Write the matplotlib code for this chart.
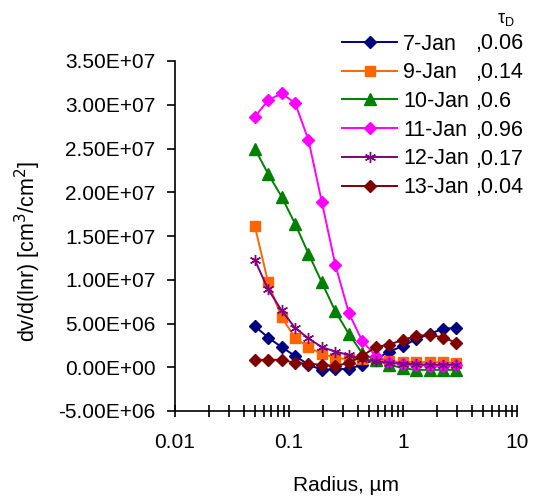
import matplotlib
matplotlib.use("Agg")
import matplotlib.pyplot as plt
from matplotlib.ticker import FuncFormatter, LogLocator, FixedLocator, NullFormatter

plt.rcParams['font.family'] = ['Liberation Sans', 'DejaVu Sans']

# Particle radius bins (um)
radius = [0.05, 0.0656, 0.0861, 0.113, 0.148, 0.194, 0.255, 0.335,
          0.439, 0.576, 0.756, 0.992, 1.302, 1.708, 2.241, 2.94]

# Volume size distributions dV/dlnr for each day
jan07 = [4.7e6, 3.4e6, 2.3e6, 1.3e6, 0.3e6, -0.3e6, -0.2e6, -0.2e6,
         0.3e6, 0.9e6, 1.8e6, 2.4e6, 3.2e6, 3.8e6, 4.4e6, 4.5e6]
jan09 = [1.62e7, 9.7e6, 5.7e6, 3.4e6, 2.3e6, 1.5e6, 1.1e6, 0.9e6,
         0.9e6, 0.7e6, 0.7e6, 0.6e6, 0.6e6, 0.6e6, 0.6e6, 0.5e6]
jan10 = [2.50e7, 2.21e7, 1.95e7, 1.64e7, 1.30e7, 9.7e6, 6.4e6, 3.8e6,
         1.6e6, 0.8e6, 0.3e6, -0.1e6, -0.3e6, -0.3e6, -0.3e6, -0.3e6]
jan11 = [2.86e7, 3.05e7, 3.13e7, 3.02e7, 2.60e7, 1.89e7, 1.17e7, 6.2e6,
         3.0e6, 1.3e6, 0.6e6, 0.4e6, 0.3e6, 0.2e6, 0.2e6, 0.3e6]
jan12 = [1.23e7, 8.9e6, 6.5e6, 4.5e6, 3.3e6, 2.3e6, 1.8e6, 1.4e6,
         0.9e6, 0.7e6, 0.5e6, 0.4e6, 0.35e6, 0.3e6, 0.3e6, 0.3e6]
jan13 = [0.85e6, 0.85e6, 0.85e6, 0.5e6, 0.4e6, 0.27e6, 0.15e6, 0.5e6,
         1.3e6, 2.3e6, 2.6e6, 3.1e6, 3.6e6, 3.7e6, 3.4e6, 2.8e6]

days = ["7-Jan", "9-Jan", "10-Jan", "11-Jan", "12-Jan", "13-Jan"]
tau = [",0.06", ",0.14", ",0.6", ",0.96", ",0.17", ",0.04"]
series = [jan07, jan09, jan10, jan11, jan12, jan13]
colors = ["#000080", "#FF6600", "#008000", "#FF00FF", "#800080", "#800000"]
markers = ["D", "s", "^", "D", (6, 2, 0), "D"]
msizes = [6.5, 7, 8, 6.5, 8, 6.5]

W, H = 533, 496
fig = plt.figure(figsize=(W / 100, H / 100), dpi=100)
ax = fig.add_axes([175 / W, 85 / H, 342 / W, 350 / H])

for y, c, m, ms, lab in zip(series, colors, markers, msizes, days):
    ax.plot(radius, y, color=c, marker=m, markersize=ms, linewidth=1.4,
            markeredgecolor=c, markeredgewidth=1.0, label=lab)

ax.set_xscale("log")
ax.set_xlim(0.01, 10)
ax.set_ylim(-5e6, 3.5e7)
ax.set_yticks([-5e6 + 5e6 * i for i in range(9)])
ax.yaxis.set_major_formatter(FuncFormatter(lambda v, p: f"{v:.2E}"))
ax.xaxis.set_major_locator(FixedLocator([0.01, 0.1, 1, 10]))
ax.xaxis.set_major_formatter(FuncFormatter(lambda v, p: f"{v:g}"))
ax.xaxis.set_minor_locator(LogLocator(base=10, subs=range(2, 10)))
ax.xaxis.set_minor_formatter(NullFormatter())

for s in ["top", "right"]:
    ax.spines[s].set_visible(False)
for s in ["left", "bottom"]:
    ax.spines[s].set_linewidth(1.2)

ax.tick_params(axis="y", direction="out", length=6, width=1.2, labelsize=15, pad=8)
ax.tick_params(axis="x", which="both", direction="inout", length=8, width=1.2,
               labelsize=15, pad=12)

ax.set_xlabel("Radius, µm", fontsize=15, labelpad=17)
ax.set_ylabel("dv/d(lnr) [cm$^3$/cm$^2$]", fontsize=15.5)
ax.yaxis.set_label_coords(-0.385, 0.456)

leg = ax.legend(loc="upper left", bbox_to_anchor=(342 / W, 1 - 33.5 / H),
                bbox_transform=fig.transFigure, frameon=False, fontsize=15.5,
                handlelength=2.56, handletextpad=0.28, labelspacing=0.36,
                borderpad=0, borderaxespad=0)

fig.text(506 / W, 1 - 19 / H, r"τ$_\mathregular{D}$", fontsize=13,
         ha="center", va="center")

# optical depth column, aligned with each legend row
fig.canvas.draw()
inv = fig.transFigure.inverted()
for t, s in zip(leg.get_texts(), tau):
    bb = t.get_window_extent()
    _, y0 = inv.transform((0, bb.y0))
    fig.text(475 / W, y0, s, fontsize=15.5, ha="left", va="bottom")

fig.savefig("out.png", dpi=100)
